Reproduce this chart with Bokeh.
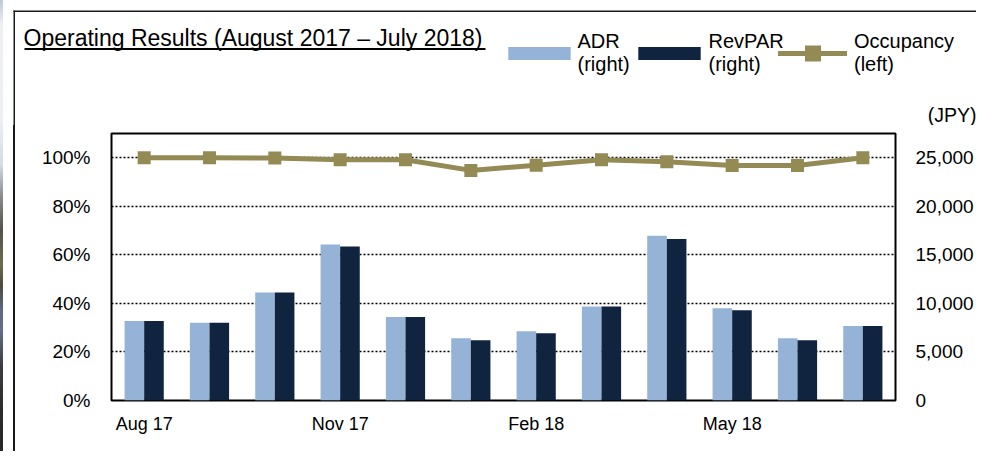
from bokeh.plotting import figure
from bokeh.layouts import column, row
from bokeh.models import (Range1d, FactorRange, LinearAxis, SingleIntervalTicker,
                          PrintfTickFormatter, NumeralTickFormatter, Label, BoxAnnotation,
                          Legend, LegendItem, Spacer, CustomJSTickFormatter)
from bokeh.transform import dodge
from bokeh.embed import file_html
from bokeh.resources import INLINE

# ---- data ----
months = ["Aug 17", "Sep 17", "Oct 17", "Nov 17", "Dec 17", "Jan 18",
          "Feb 18", "Mar 18", "Apr 18", "May 18", "Jun 18", "Jul 18"]
shown_month_labels = ["Aug 17", "Nov 17", "Feb 18", "May 18"]
adr = [8200, 8020, 11120, 16070, 8610, 6410, 7130, 9670, 16970, 9500, 6410, 7680]
revpar = [8200, 8020, 11120, 15870, 8610, 6200, 6920, 9670, 16630, 9300, 6200, 7680]
occupancy = [100.0, 100.0, 99.9, 99.2, 99.2, 94.8, 96.9, 99.2, 98.4, 96.8, 96.8, 100.0]

title_text = "Operating Results (August 2017 \u2013 July 2018)"
unit_text = "(JPY)"
legend_labels = ["ADR\n(right)", "RevPAR\n(right)", "Occupancy\n(left)"]

ADR_COLOR = "#95B3D7"
REVPAR_COLOR = "#11243F"
OCC_COLOR = "#948A54"
BOX_COLOR = "#1a1a1a"
FONT = "Liberation Sans"

W = 976
H = 451
STRIP_W = 3          # sliver of a neighbouring photo at the very left edge
HEAD_H = 125
CHART_H = H - HEAD_H
LEFT_PAD = 15        # space (from x=0) holding the outer box's left edge

# ================= header (title, legend, unit) =================
h = figure(width=W - STRIP_W, height=HEAD_H, x_range=Range1d(STRIP_W, W),
           y_range=Range1d(HEAD_H, 0), output_backend="svg", toolbar_location=None,
           x_axis_type=None, y_axis_type=None, min_border=0, min_border_left=0,
           min_border_right=0, min_border_top=0, min_border_bottom=0)
h.outline_line_color = None
h.grid.visible = False
h.background_fill_color = "white"
h.border_fill_color = "white"

# outer box top + left edges
h.add_layout(BoxAnnotation(left=13, right=W, top=10, bottom=11.5, fill_color=BOX_COLOR,
                           fill_alpha=1, line_color=None))
h.add_layout(BoxAnnotation(left=13, right=14.5, top=10, bottom=HEAD_H, fill_color=BOX_COLOR,
                           fill_alpha=1, line_color=None))

h.add_layout(Label(x=23, y=37, text=title_text, text_font=FONT, text_font_size="23px",
                   text_color="black", text_baseline="alphabetic", text_align="left"))
h.add_layout(BoxAnnotation(left=24, right=485, top=47.5, bottom=49.5, fill_color="black",
                           fill_alpha=1, line_color=None))
h.add_layout(Label(x=976, y=114, text=unit_text, text_font=FONT, text_font_size="19.5px",
                   text_color="black", text_baseline="middle", text_align="right"))

# legend key glyphs (same styles as the chart's renderers; kept off-canvas)
OFF = [-500]
k_adr = h.vbar(x=OFF, top=OFF, width=1, fill_color=ADR_COLOR, line_color=None)
k_rev = h.vbar(x=OFF, top=OFF, width=1, fill_color=REVPAR_COLOR, line_color=None)
k_line = h.line(x=OFF * 2, y=OFF * 2, line_color=OCC_COLOR, line_width=5, line_cap="round")
k_pts = h.scatter(x=OFF, y=OFF, marker="square", size=13, fill_color=OCC_COLOR,
                  line_color=None)


def make_legend(label, renderers, x, y_bottom, gw, gh, standoff):
    lg = Legend(items=[LegendItem(label=label, renderers=renderers)],
                location=(x - STRIP_W, HEAD_H - y_bottom), orientation="horizontal",
                border_line_color=None, background_fill_alpha=0, padding=0, margin=0,
                spacing=0, glyph_width=gw, glyph_height=gh, label_standoff=standoff,
                label_text_font=FONT, label_text_font_size="20px",
                label_text_line_height=1.05, label_text_color="black")
    h.add_layout(lg)


make_legend(legend_labels[0], [k_adr], 499.5, 76, 78, 16, 0)
make_legend(legend_labels[1], [k_rev], 629.5, 76, 78, 16, 1)
make_legend(legend_labels[2], [k_line, k_pts], 778, 76, 69, 40, 7)

# ================= chart =================
p = figure(width=W - LEFT_PAD, height=CHART_H,
           x_range=FactorRange(factors=months, range_padding=0),
           y_range=Range1d(0, 110), output_backend="svg", toolbar_location=None,
           min_border_left=111 - LEFT_PAD, min_border_right=77, min_border_top=8,
           min_border_bottom=51)
p.extra_y_ranges = {"jpy": Range1d(0, 27500)}

p.outline_line_color = "black"
p.outline_line_width = 2
p.background_fill_color = "white"
p.border_fill_color = "white"

p.xgrid.grid_line_color = None
p.ygrid.grid_line_color = "black"
p.ygrid.grid_line_dash = "2 2"
p.ygrid.grid_line_width = 1.4

src = dict(month=months, adr=adr, revpar=revpar, occ=occupancy)
p.vbar(x=dodge("month", -0.15, range=p.x_range), top="adr", width=0.3, source=src,
       y_range_name="jpy", fill_color=ADR_COLOR, line_color=None)
p.vbar(x=dodge("month", 0.15, range=p.x_range), top="revpar", width=0.3, source=src,
       y_range_name="jpy", fill_color=REVPAR_COLOR, line_color=None)
p.line(x="month", y="occ", source=src, line_color=OCC_COLOR, line_width=5)
p.scatter(x="month", y="occ", source=src, marker="square", size=13,
          fill_color=OCC_COLOR, line_color=None)

for ax in [p.xaxis[0], p.yaxis[0]]:
    ax.axis_line_color = None
    ax.major_tick_line_color = None
    ax.minor_tick_line_color = None
    ax.major_label_text_font = FONT
    ax.major_label_text_color = "black"

p.yaxis[0].ticker = SingleIntervalTicker(interval=20)
p.yaxis[0].formatter = PrintfTickFormatter(format="%d%%")
p.yaxis[0].major_label_text_font_size = "19px"
p.yaxis[0].major_label_standoff = 15

p.xaxis[0].major_label_text_font_size = "18px"
p.xaxis[0].major_label_standoff = 7
p.xaxis[0].formatter = CustomJSTickFormatter(args=dict(shown=shown_month_labels),
                                             code="return shown.includes(tick) ? tick : '';")

right = LinearAxis(y_range_name="jpy", ticker=SingleIntervalTicker(interval=5000),
                   formatter=NumeralTickFormatter(format="0,0"))
right.axis_line_color = None
right.major_tick_line_color = None
right.minor_tick_line_color = None
right.major_label_text_font = FONT
right.major_label_text_font_size = "19px"
right.major_label_text_color = "black"
right.major_label_standoff = 14
p.add_layout(right, "right")

strip_css = ("linear-gradient(to bottom, #bcc8da 0px, #eef0f3 25px, #eceff4 120px, "
             "#d3dbe8 165px, #8c8e90 195px, #545248 230px, #6e6a50 265px, #4c4a3c 285px, "
             "#5a6a84 310px, #60708a 330px, #3c3e42 365px, #2c2c2c 410px, #262626 451px)")
strip = Spacer(width=STRIP_W, height=H, styles={"background": strip_css})
edge = Spacer(width=2, height=CHART_H, styles={"background-color": BOX_COLOR})
chart_row = row(Spacer(width=13 - STRIP_W, height=CHART_H), edge, p, spacing=0)
layout = row(strip, column(h, chart_row, spacing=0), spacing=0)

open("out.html", "w").write(file_html(layout, INLINE))
